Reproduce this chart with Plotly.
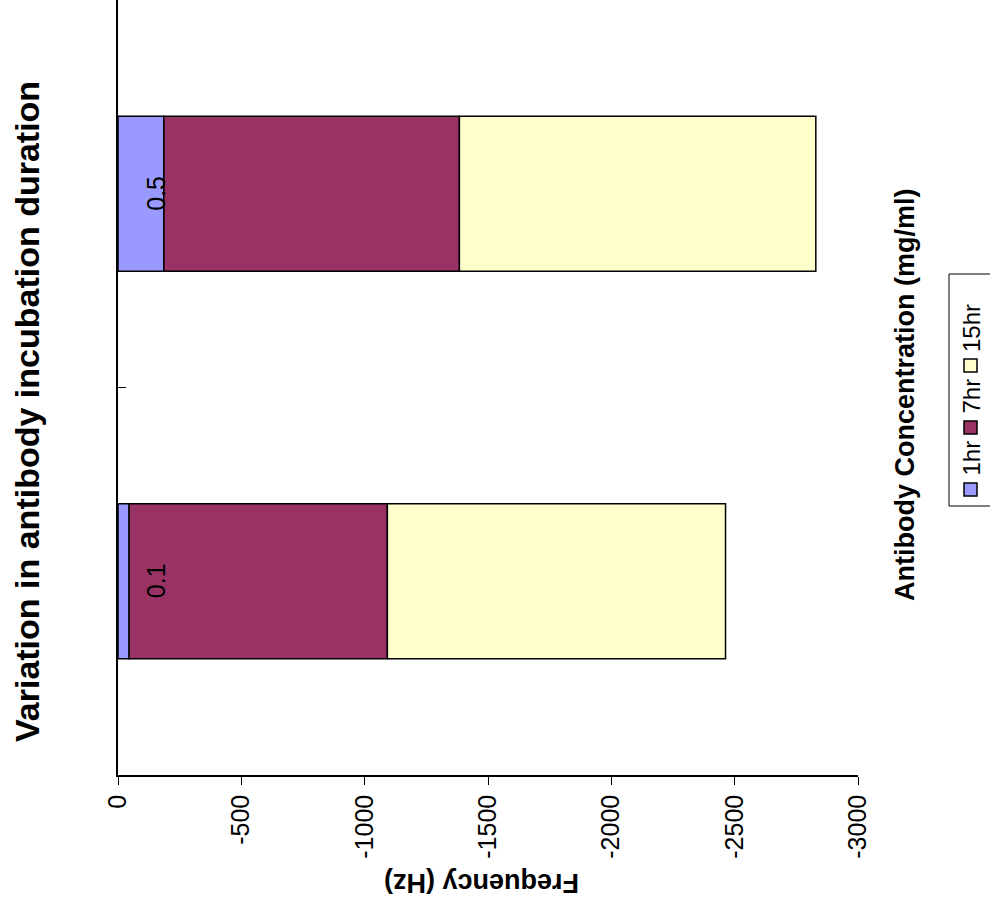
import plotly.graph_objects as go

categories = ["0.1", "0.5"]
series_names = ["1hr", "7hr", "15hr"]
hr1 = [-45, -186]
hr7 = [-1047, -1198]
hr15 = [-1371, -1445]
colors = ["#9999FF", "#993366", "#FFFFCC"]
value_ticks = [0, -500, -1000, -1500, -2000, -2500, -3000]

W, H = 990, 915
L, R, T, B = 118, 132, 0, 140
PW, PH = W - L - R, H - T - B

def px(x):
    return (x - L) / PW

def py(y):
    return (H - B - y) / PH

FONT = "Arial, Liberation Sans, sans-serif"

fig = go.Figure()
for name, vals, col in zip(series_names, [hr1, hr7, hr15], colors):
    fig.add_trace(go.Bar(
        y=categories, x=vals, name=name, orientation="h",
        marker=dict(color=col, line=dict(color="black", width=1.5)),
        width=0.4, showlegend=False))

fig.update_layout(
    width=W, height=H, barmode="relative",
    margin=dict(l=L, r=R, t=T, b=B, autoexpand=False),
    plot_bgcolor="white", paper_bgcolor="white",
    font=dict(family=FONT, color="black"),
    xaxis=dict(range=[0, -3000], tickvals=value_ticks,
               ticktext=[str(v) for v in value_ticks],
               tickangle=-90, ticks="outside", ticklen=8, tickcolor="black",
               showline=True, linecolor="black", linewidth=1.5,
               showgrid=False, zeroline=False, automargin=False,
               tickfont=dict(size=25, family=FONT, color="black")),
    yaxis=dict(type="category", categoryorder="array", categoryarray=categories,
               range=[-0.5, 1.5],
               showline=True, linecolor="black", linewidth=1.5,
               ticks="inside", ticklen=8, tickcolor="black", tickson="boundaries",
               showticklabels=False, automargin=False,
               showgrid=False, zeroline=False),
)

ann = []
# category labels, drawn inside next to the category axis
for i, c in enumerate(categories):
    ann.append(dict(text=c, xref="paper", yref="y", x=px(156), y=i,
                    xanchor="center", yanchor="middle",
                    textangle=-90, showarrow=False,
                    font=dict(size=25, color="black")))
ann.append(dict(text="<b>Variation in antibody incubation duration</b>",
                xref="paper", yref="paper", x=px(27), y=py(412),
                xanchor="center", yanchor="middle",
                textangle=-90, showarrow=False, font=dict(size=34)))
ann.append(dict(text="<b>Frequency (Hz)</b>", xref="paper", yref="paper",
                x=px(482), y=py(883), xanchor="center", yanchor="middle",
                textangle=180, showarrow=False, font=dict(size=27)))
ann.append(dict(text="<b>Antibody Concentration (mg/ml)</b>", xref="paper", yref="paper",
                x=px(905), y=py(395), xanchor="center", yanchor="middle",
                textangle=-90, showarrow=False, font=dict(size=27)))

# legend (rotated), built from series names and colors
shapes = []
box_bottom, box_top = 506, 274
shapes.append(dict(type="rect", xref="paper", yref="paper",
                   x0=px(949), x1=px(1000), y0=py(box_bottom), y1=py(box_top),
                   line=dict(color="black", width=1), fillcolor="white", layer="above"))
cur = box_bottom - 10
lens = {"1hr": 35, "7hr": 35, "15hr": 48}
for name, col in zip(series_names, colors):
    shapes.append(dict(type="rect", xref="paper", yref="paper",
                       x0=px(964), x1=px(977), y0=py(cur), y1=py(cur - 13),
                       line=dict(color="black", width=1.5), fillcolor=col, layer="above"))
    cur -= 13 + 5
    ann.append(dict(text=name, xref="paper", yref="paper",
                    x=px(971), y=py(cur), yanchor="bottom", xanchor="center",
                    textangle=-90, showarrow=False, font=dict(size=24)))
    cur -= lens[name] + 9

fig.update_layout(annotations=ann, shapes=shapes)
fig.write_html("out.html", config={"displayModeBar": False},
               post_script="document.body.style.margin='0px';document.body.style.overflow='hidden';")
